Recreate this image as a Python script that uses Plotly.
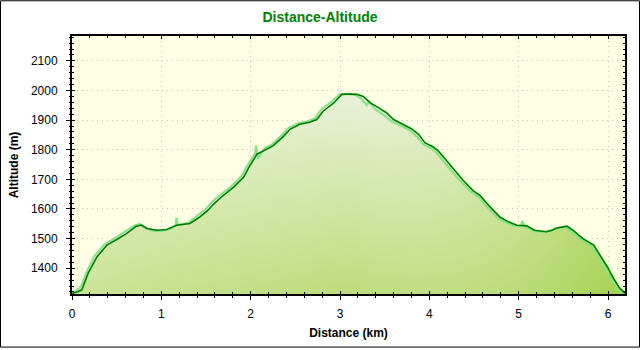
import plotly.graph_objects as go

# ---- data ----
distance_km = [0.00, 0.05, 0.11, 0.18, 0.28, 0.39, 0.50, 0.61, 0.72, 0.78, 0.84, 0.95,
               1.06, 1.17, 1.32, 1.43, 1.52, 1.58, 1.68, 1.81, 1.92, 1.99, 2.07, 2.18,
               2.25, 2.37, 2.44, 2.55, 2.66, 2.74, 2.81, 2.93, 3.02, 3.11, 3.19, 3.26,
               3.34, 3.43, 3.52, 3.60, 3.71, 3.80, 3.88, 3.95, 4.04, 4.10, 4.18, 4.27,
               4.38, 4.49, 4.57, 4.68, 4.79, 4.87, 4.98, 5.09, 5.18, 5.31, 5.37, 5.43,
               5.54, 5.61, 5.72, 5.84, 5.91, 5.99, 6.06, 6.13, 6.19]
altitude_m = [1315, 1319, 1327, 1383, 1439, 1478, 1497, 1517, 1542, 1546, 1534, 1528,
              1531, 1545, 1551, 1573, 1595, 1615, 1643, 1674, 1707, 1746, 1785, 1802,
              1813, 1846, 1869, 1886, 1893, 1902, 1930, 1958, 1987, 1988, 1987, 1980,
              1958, 1942, 1925, 1902, 1886, 1871, 1852, 1824, 1810, 1796, 1768, 1735,
              1696, 1662, 1645, 1607, 1573, 1559, 1545, 1543, 1528, 1523, 1528, 1536,
              1542, 1528, 1500, 1478, 1445, 1406, 1367, 1333, 1316]

raw_distance_km = [0.00, 0.04, 0.10, 0.16, 0.25, 0.36, 0.47, 0.58, 0.70, 0.76, 0.80, 0.90,
                   1.00, 1.10, 1.16, 1.17, 1.18, 1.30, 1.41, 1.50, 1.56, 1.66, 1.79, 1.90,
                   1.97, 2.05, 2.06, 2.08, 2.16, 2.24, 2.35, 2.42, 2.53, 2.64, 2.72, 2.79,
                   2.91, 3.00, 3.10, 3.18, 3.24, 3.30, 3.32, 3.40, 3.50, 3.58, 3.69, 3.78,
                   3.86, 3.93, 4.02, 4.08, 4.16, 4.25, 4.36, 4.47, 4.55, 4.66, 4.77, 4.85,
                   4.96, 5.03, 5.04, 5.07, 5.16, 5.29, 5.35, 5.41, 5.52, 5.59, 5.70, 5.82,
                   5.89, 5.97, 6.04, 6.11, 6.17]
raw_altitude_m = [1317, 1322, 1338, 1384, 1440, 1480, 1500, 1520, 1544, 1549, 1538, 1527,
                  1525, 1533, 1545, 1570, 1546, 1553, 1578, 1600, 1622, 1648, 1678, 1712,
                  1750, 1788, 1815, 1770, 1806, 1818, 1850, 1873, 1889, 1896, 1906, 1936,
                  1963, 1988, 1988, 1984, 1972, 1950, 1962, 1935, 1915, 1895, 1880, 1866,
                  1845, 1818, 1805, 1790, 1760, 1728, 1690, 1657, 1640, 1602, 1568, 1555,
                  1542, 1545, 1560, 1540, 1526, 1521, 1526, 1535, 1540, 1524, 1495, 1472,
                  1438, 1398, 1358, 1326, 1314]

x_range = [0, 6.19]
y_range = [1313, 2184]

W, H = 640, 350
M = dict(l=72, r=15, t=36, b=54)
FONT = "Liberation Sans, Arial, sans-serif"

fig = go.Figure()

# base vertical gradient fill
fig.add_trace(go.Scatter(
    x=distance_km, y=altitude_m, mode="lines", line=dict(width=0),
    fill="tozeroy",
    fillgradient=dict(type="vertical", start=y_range[0], stop=1990,
                      colorscale=[[0, "#BCDC7A"], [1, "#E8F1D8"]]),
    hoverinfo="skip", showlegend=False))
# horizontal tint overlay
fig.add_trace(go.Scatter(
    x=distance_km, y=altitude_m, mode="lines", line=dict(width=0),
    fill="tozeroy",
    fillgradient=dict(type="horizontal", start=x_range[0], stop=x_range[1],
                      colorscale=[[0, "rgba(255,255,255,0.22)"],
                                  [0.5, "rgba(255,255,255,0)"],
                                  [1, "rgba(130,190,10,0.4)"]]),
    hoverinfo="skip", showlegend=False))
# raw light green trace
fig.add_trace(go.Scatter(
    x=raw_distance_km, y=raw_altitude_m, mode="lines",
    line=dict(color="#86E486", width=2.2), hoverinfo="skip", showlegend=False))
# smoothed dark green trace
fig.add_trace(go.Scatter(
    x=distance_km, y=altitude_m, mode="lines",
    line=dict(color="#007A00", width=1.6), showlegend=False))
# invisible trace for the outward tick overlay axes
fig.add_trace(go.Scatter(x=x_range, y=y_range, xaxis="x2", yaxis="y2",
                         mode="markers", marker=dict(opacity=0), hoverinfo="skip",
                         showlegend=False))

pw = W - M["l"] - M["r"]
ph = H - M["t"] - M["b"]
fig.add_shape(type="rect", xref="paper", yref="paper",
              x0=-(M["l"] - 0.5) / pw, x1=1 + (M["r"] - 0.5) / pw,
              y0=-(M["b"] - 0.5) / ph, y1=1 + (M["t"] - 0.5) / ph,
              line=dict(color="black", width=1))

GRID = dict(showgrid=True, gridcolor="#C4C4C4", griddash="1px,4px", gridwidth=1)

fig.update_layout(
    width=W, height=H, margin=M,
    paper_bgcolor="white", plot_bgcolor="#FFFFE6",
    font=dict(family=FONT, size=12, color="black"),
    title=dict(text="<b>Distance-Altitude</b>", x=0.5, xref="container",
               y=1 - 17 / H, yref="container", xanchor="center", yanchor="middle",
               font=dict(family=FONT, size=14, color="#008000")),
    xaxis=dict(range=x_range, dtick=1, tick0=0, ticks="inside", ticklen=3,
               tickcolor="black", mirror="allticks", showline=True, linecolor="black",
               linewidth=2, zeroline=False, ticklabelstandoff=8, **GRID,
               minor=dict(dtick=0.2, ticks="inside", ticklen=2, tickcolor="black",
                          showgrid=False),
               title=dict(text="<b>Distance (km)</b>", standoff=8,
                          font=dict(family=FONT, size=12))),
    yaxis=dict(range=y_range, dtick=100, tick0=0, ticks="inside", ticklen=3,
               tickcolor="black", mirror="allticks", showline=True, linecolor="black",
               linewidth=2, zeroline=False, ticklabelstandoff=10, **GRID,
               minor=dict(dtick=20, ticks="inside", ticklen=2, tickcolor="black",
                          showgrid=False),
               title=dict(text="<b>Altitude (m)</b>", standoff=10,
                          font=dict(family=FONT, size=12))),
    xaxis2=dict(range=x_range, overlaying="x", anchor="y", side="bottom", dtick=1,
                tick0=0, ticks="outside", ticklen=5, tickcolor="black",
                showticklabels=False, showgrid=False, showline=False, zeroline=False,
                minor=dict(dtick=0.2, ticks="outside", ticklen=3, tickcolor="black")),
    yaxis2=dict(range=y_range, overlaying="y", anchor="x", side="left", dtick=100,
                tick0=0, ticks="outside", ticklen=5, tickcolor="black",
                showticklabels=False, showgrid=False, showline=False, zeroline=False,
                minor=dict(dtick=20, ticks="outside", ticklen=2, tickcolor="black")),
    showlegend=False,
)

fig.write_html("out.html")
